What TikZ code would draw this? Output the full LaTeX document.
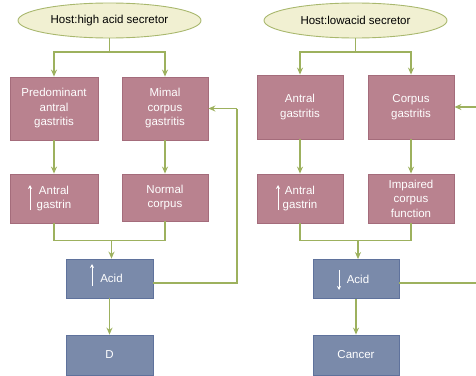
\documentclass[tikz,border=0pt]{standalone}
\usepackage{fontspec}
\setmainfont{Liberation Sans}
\usetikzlibrary{arrows.meta,shapes.geometric}
\definecolor{efill}{HTML}{F1F0D2}
\definecolor{edraw}{HTML}{A9B86E}
\definecolor{pfill}{HTML}{B9828F}
\definecolor{pdraw}{HTML}{A46C7B}
\definecolor{bfill}{HTML}{7A8AAA}
\definecolor{bdraw}{HTML}{5F729C}
\definecolor{lcol}{HTML}{9DB15E}
\tikzset{
  hostel/.style={ellipse, draw=edraw, fill=efill, line width=0.9pt, minimum width=183pt, minimum height=35pt, inner sep=0pt, text=black, font=\fontsize{11.5}{14}\selectfont},
  pbox/.style={rectangle, draw=pdraw, fill=pfill, line width=0.8pt, inner sep=0pt, align=center, text=white, font=\fontsize{11.5}{14.5}\selectfont},
  bbox/.style={rectangle, draw=bdraw, fill=bfill, line width=0.8pt, inner sep=0pt, align=center, text=white, font=\fontsize{11.5}{14.5}\selectfont},
  conn/.style={draw=lcol, line width=1.2pt},
  arr/.style={conn, -{Stealth[length=7pt,width=6pt]}},
  warr/.style={draw=white, line width=0.9pt, -{Stealth[length=4pt,width=4pt]}},
}
\begin{document}
\begin{tikzpicture}[x=1pt,y=-1pt]
\useasboundingbox (0,0) rectangle (476,375);
% left column
\node[hostel] (e1) at (109.5,20.5) {Host:high acid secretor};
\node[pbox, minimum width=88pt, minimum height=63pt] (p1) at (54,108.5) {Predominant\\antral\\gastritis};
\node[pbox, minimum width=86pt, minimum height=63pt] (p2) at (165,108.5) {Mimal\\corpus\\gastritis};
\node[pbox, minimum width=88pt, minimum height=49pt] (q1) at (54,198.5) {Antral\\gastrin};
\node[pbox, minimum width=86pt, minimum height=47pt] (q2) at (165,197.5) {Normal\\corpus};
\node[bbox, minimum width=87pt, minimum height=39pt] (a1) at (109.5,278.5) {\hspace*{4pt}Acid};
\node[bbox, minimum width=87pt, minimum height=40pt] (d1) at (109.5,355) {D};
% right column
\node[hostel] (e2) at (355.5,20.5) {Host:lowacid secretor};
\node[pbox, minimum width=86pt, minimum height=64pt] (p3) at (300,107) {Antral\\gastritis};
\node[pbox, minimum width=86pt, minimum height=64pt] (p4) at (411,107) {Corpus\\gastritis};
\node[pbox, minimum width=86pt, minimum height=49pt] (q3) at (300,198.5) {Antral\\gastrin};
\node[pbox, minimum width=86pt, minimum height=49pt] (q4) at (411,198.5) {Impaired\\corpus\\function};
\node[bbox, minimum width=86pt, minimum height=39pt] (a2) at (356,279) {\hspace*{4pt}Acid};
\node[bbox, minimum width=86pt, minimum height=40pt] (c2) at (356,355) {Cancer};
% small white arrows inside boxes
\draw[warr] (30,210) -- (30,185);
\draw[warr] (278,210) -- (278,185);
\draw[warr] (92,286) -- (92,264);
\draw[warr] (339,270) -- (339,290);
% coordinates
\coordinate (s1) at (109.5,52);
\coordinate (s2) at (355.5,52);
\coordinate (m1) at (111.5,240.5);
\coordinate (m2) at (358,240.5);
\coordinate (f1) at (237,283);
\coordinate (g1) at (237,108.5);
\coordinate (f2) at (476,283);
\coordinate (g2) at (476,107);
% left connectors
\draw[conn] (e1.south) -- (s1);
\draw[arr] (s1) -| (p1.north);
\draw[arr] (s1) -| (p2.north);
\draw[arr] (p1) -- (q1);
\draw[arr] (p2) -- (q2);
\draw[conn] (q1.south) |- (m1) -| (q2.south);
\draw[arr] (m1) -- (m1 |- a1.north);
\draw[arr] (a1.south) -- (d1.north);
\draw[conn] (a1.east |- f1) -- (f1) -- (g1);
\draw[arr] (g1) -- (p2.east);
% right connectors
\draw[conn] (e2.south) -- (s2);
\draw[arr] (s2) -| (p3.north);
\draw[arr] (s2) -| (p4.north);
\draw[arr] (p3) -- (q3);
\draw[arr] (p4) -- (q4);
\draw[conn] (q3.south) |- (m2) -| (q4.south);
\draw[arr] (m2) -- (m2 |- a2.north);
\draw[arr] (a2.south) -- (c2.north);
\draw[conn] (a2.east |- f2) -- (f2);
\draw[arr] (g2) -- (p4.east);
\end{tikzpicture}
\end{document}
